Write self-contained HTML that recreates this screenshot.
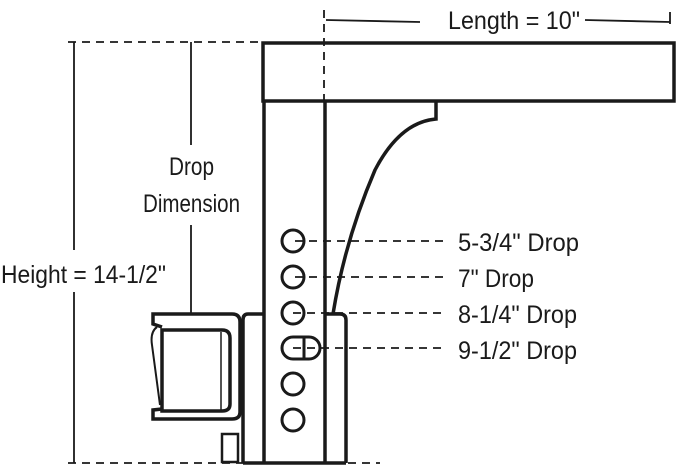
<!DOCTYPE html>
<html><head><style>body{margin:0;background:#fff}svg{display:block}</style></head><body>
<svg width="679" height="470" viewBox="0 0 679 470" xmlns="http://www.w3.org/2000/svg">
<g fill="none" stroke="#1a1a1a">
<g stroke-width="1.8" stroke-dasharray="8,6">
<line x1="68" y1="42" x2="262" y2="42"/>
<line x1="68" y1="463" x2="380" y2="463"/>
<line x1="324" y1="10" x2="324" y2="100"/>
<line x1="295" y1="241" x2="445" y2="241"/>
<line x1="295" y1="277" x2="445" y2="277"/>
<line x1="293" y1="313" x2="445" y2="313"/>
<line x1="293" y1="348" x2="445" y2="348"/>
</g>
<g stroke-width="1.8">
<line x1="74" y1="42" x2="74" y2="250"/>
<line x1="74" y1="292" x2="74" y2="463"/>
<line x1="191" y1="42" x2="191" y2="145"/>
<line x1="191" y1="225" x2="191" y2="314"/>
<line x1="326" y1="20" x2="420" y2="22"/>
<line x1="585" y1="20" x2="670" y2="22"/>
<line x1="670" y1="12" x2="670" y2="24"/>
</g>
<g stroke-width="3.5">
<rect x="263" y="43" width="411" height="58"/>
<line x1="264" y1="101" x2="264" y2="463"/>
<line x1="325" y1="101" x2="325" y2="463"/>
<line x1="243" y1="463" x2="346" y2="463"/>
<path d="M325 314 H340 Q346 314 346 320 V463"/>
<path d="M264 314 H248 Q243 314 243 320 V463"/>
<path d="M436 101 V119 Q400 122 375 170 Q345 240 333 314"/>
<path d="M240 322 Q240 314 232 314 H153 V324 L162 327"/>
<path d="M240 322 V412 Q240 419 232 419 H153 V410 L162 409"/>
<path d="M162 330 H222 Q230 330 230 338 V404 Q230 411 222 411 H162 Z"/>
<path d="M157 327 Q150 332 152 345 L160 405" stroke-width="2"/>
<rect x="222" y="434" width="16" height="28" stroke-width="2.5"/>
</g>
<line x1="221" y1="332" x2="221" y2="410" stroke-width="1.5"/>
<g stroke-width="3">
<circle cx="293" cy="241" r="11"/>
<circle cx="293" cy="277" r="11"/>
<circle cx="293" cy="313" r="11"/>
<circle cx="293" cy="384" r="11"/>
<circle cx="293" cy="420" r="11"/>
<path d="M293 337 H309 A11 11 0 0 1 309 359 H293 A11 11 0 0 1 293 337 Z"/>
<line x1="304" y1="338" x2="304" y2="358"/>
</g>
</g>
<g font-family="Liberation Sans, sans-serif" font-size="25" fill="#1a1a1a">
<text x="448" y="29" textLength="132" lengthAdjust="spacingAndGlyphs">Length = 10"</text>
<text x="169" y="175" textLength="45" lengthAdjust="spacingAndGlyphs">Drop</text>
<text x="143" y="212" textLength="97" lengthAdjust="spacingAndGlyphs">Dimension</text>
<text x="1" y="283" textLength="165" lengthAdjust="spacingAndGlyphs">Height = 14-1/2"</text>
<text x="458" y="251" textLength="121" lengthAdjust="spacingAndGlyphs">5-3/4" Drop</text>
<text x="458" y="287" textLength="76" lengthAdjust="spacingAndGlyphs">7" Drop</text>
<text x="458" y="323" textLength="119" lengthAdjust="spacingAndGlyphs">8-1/4" Drop</text>
<text x="458" y="359" textLength="119" lengthAdjust="spacingAndGlyphs">9-1/2" Drop</text>
</g>
</svg>
</body></html>
